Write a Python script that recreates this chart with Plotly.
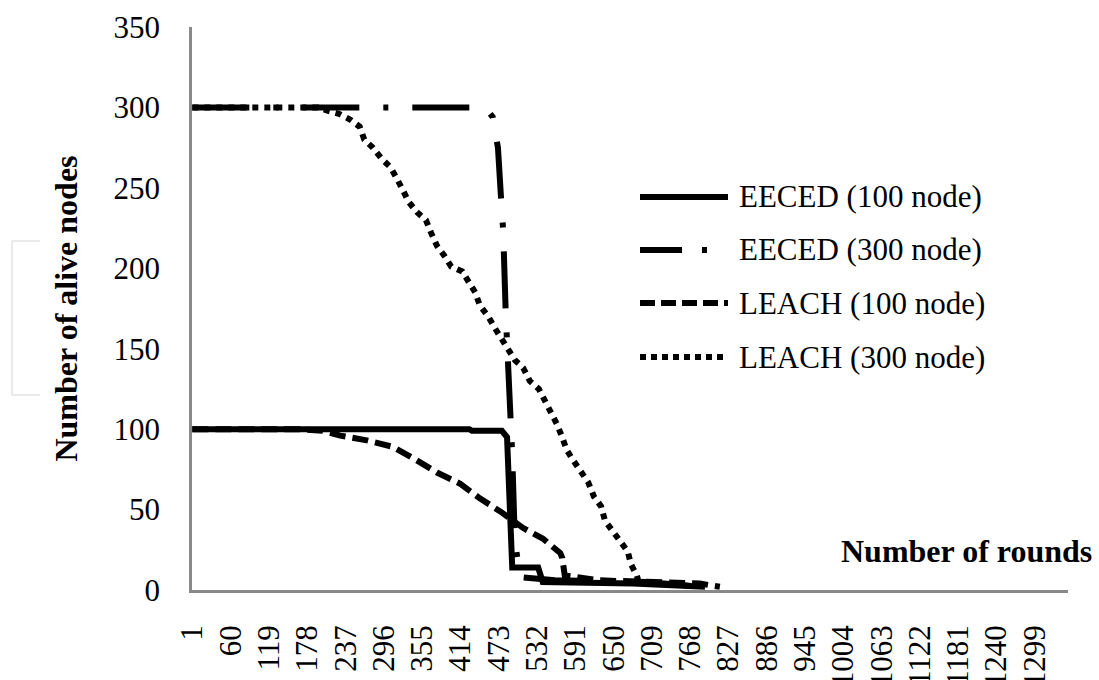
import plotly.graph_objects as go

# ---- data ----
eeced100_rounds = [1, 428, 432, 478, 486, 494, 534, 538, 541, 680, 791]
eeced100_alive = [100, 100, 99, 99, 95, 14, 14, 10, 5, 4, 2]

eeced300_rounds = [1, 452, 464, 472, 477, 480, 484, 489, 492, 494, 498, 503, 506, 560, 700, 760, 790]
eeced300_alive = [300, 300, 294, 275, 242, 224, 172, 135, 101, 84, 31, 12, 8, 6, 5, 3, 1]

leach100_rounds = [1, 167, 202, 229, 270, 310, 341, 378, 414, 444, 475, 511, 541, 568, 571,
                   575, 629, 783, 814]
leach100_alive = [100, 100, 99, 96, 93, 89, 82, 73, 66, 57, 49, 38.5, 32, 23, 20, 9, 6, 4, 2]

leach300_rounds = [1, 195, 209, 227, 244, 259, 266, 279, 293, 306, 316, 326, 335, 347, 361,
                   369, 378, 389, 400, 417, 427, 437, 444, 457, 467, 478, 487, 498, 511, 521,
                   535, 544, 555, 563, 571, 578, 589, 600, 611, 620, 631, 637, 648, 660, 672,
                   677, 686, 691]
leach300_alive = [300, 300, 298, 296, 292.5, 288, 280, 275, 268, 263, 256, 248, 241, 235, 230,
                  222, 214, 208, 201, 198, 192, 185, 177, 170, 163, 156, 151, 143, 138, 130,
                  125, 118, 111, 103, 95, 87, 80, 73, 67, 58, 52, 43, 37, 30, 24,
                  16, 9, 2]

x_tick_labels = [1, 60, 119, 178, 237, 296, 355, 414, 473, 532, 591, 650, 709, 768, 827,
                 886, 945, 1004, 1063, 1122, 1181, 1240, 1299]

series_names = ["EECED (100 node)", "EECED (300 node)", "LEACH (100 node)", "LEACH (300 node)"]

# ---- styling ----
FONT = "Liberation Serif"
W, H = 1099, 680
L, R, T, B = 192, 1068, 27, 590  # plot area in pixels

plot_dashes = ["solid", "57px,24px,5px,24px", "16px,7px", "6px,6px"]
legend_dashes = ["solid", "42px,20px,5px,21px", "15px,6px", "6px,5px"]


def px_x(px):
    return (px - L) / (R - L)


def px_y(py):
    return (B - py) / (B - T)


fig = go.Figure()
all_series = [
    (eeced100_rounds, eeced100_alive),
    (eeced300_rounds, eeced300_alive),
    (leach100_rounds, leach100_alive),
    (leach300_rounds, leach300_alive),
]
for (xs, ys), name, dash in zip(all_series, series_names, plot_dashes):
    fig.add_trace(
        go.Scatter(
            x=xs,
            y=ys,
            mode="lines",
            name=name,
            line=dict(color="black", width=6, dash=dash),
            cliponaxis=False,
        )
    )

shapes = []
annotations = []
legend_rows = [197, 250, 303, 357]
for name, dash, row in zip(series_names, legend_dashes, legend_rows):
    shapes.append(
        dict(
            type="line",
            xref="paper",
            yref="paper",
            x0=px_x(640),
            x1=px_x(728),
            y0=px_y(row),
            y1=px_y(row),
            line=dict(color="black", width=6, dash=dash),
        )
    )
    annotations.append(
        dict(
            text=name,
            xref="paper",
            yref="paper",
            x=px_x(737),
            y=px_y(row),
            xanchor="left",
            yanchor="middle",
            showarrow=False,
            font=dict(family=FONT, size=31, color="black"),
        )
    )

# faint bracket at the left edge
shapes.append(
    dict(
        type="path",
        xref="paper",
        yref="paper",
        path=f"M {px_x(40)},{px_y(241)} L {px_x(12)},{px_y(241)} "
        f"L {px_x(12)},{px_y(395)} L {px_x(40)},{px_y(395)}",
        line=dict(color="#e4e4e4", width=1.5),
    )
)

annotations.append(
    dict(
        text="<b>Number of rounds</b>",
        xref="paper",
        yref="paper",
        x=px_x(1094),
        y=px_y(551),
        xanchor="right",
        yanchor="middle",
        showarrow=False,
        font=dict(family=FONT, size=32, color="black"),
    )
)

fig.update_layout(
    width=W,
    height=H,
    margin=dict(l=L, r=W - R, t=T, b=H - B, autoexpand=False),
    paper_bgcolor="white",
    plot_bgcolor="white",
    showlegend=False,
    font=dict(family=FONT, size=30, color="black"),
    shapes=shapes,
    annotations=annotations,
)
fig.update_xaxes(
    range=[0.5, 1350.5],
    tickmode="array",
    tickvals=x_tick_labels,
    ticktext=[str(v) for v in x_tick_labels],
    tickangle=-90,
    ticks="",
    ticklabelstandoff=20,
    automargin=False,
    showgrid=False,
    zeroline=False,
    showline=True,
    linecolor="#898989",
    linewidth=2.5,
    tickfont=dict(family=FONT, size=31, color="black"),
)
fig.update_yaxes(
    range=[0, 350],
    dtick=50,
    ticks="",
    ticklabelstandoff=23,
    automargin=False,
    showgrid=False,
    zeroline=False,
    showline=True,
    linecolor="#898989",
    linewidth=2.5,
    tickfont=dict(family=FONT, size=31, color="black"),
    title=dict(
        text="<b>Number of alive nodes</b>",
        font=dict(family=FONT, size=32, color="black"),
        standoff=27,
    ),
)

fig.write_html(
    "out.html",
    config={"displayModeBar": False},
    post_script="document.body.style.margin='0';document.body.style.overflow='hidden';",
)
